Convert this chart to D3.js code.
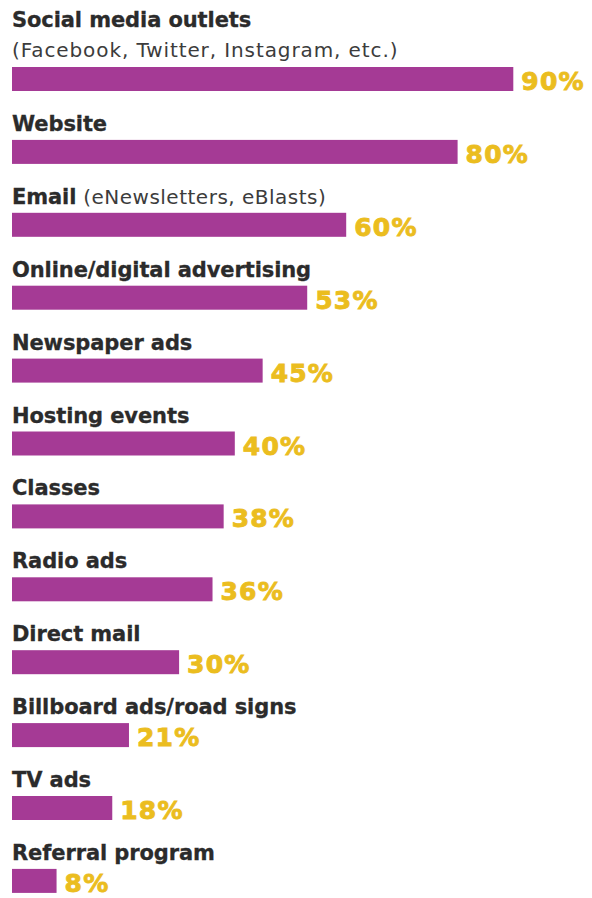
<!DOCTYPE html>
<html>
<head>
<meta charset="utf-8">
<script src="https://cdn.jsdelivr.net/npm/d3@7"></script>
<style>
  html, body { margin: 0; padding: 0; background: #ffffff; }
  svg { display: block; }
</style>
</head>
<body>
<svg id="chart" width="592" height="898"></svg>
<script>
// Marketing channels and share of respondents using each
const categories = [
  "Social media outlets",
  "Website",
  "Email",
  "Online/digital advertising",
  "Newspaper ads",
  "Hosting events",
  "Classes",
  "Radio ads",
  "Direct mail",
  "Billboard ads/road signs",
  "TV ads",
  "Referral program"
];
const values = [90, 80, 60, 53, 45, 40, 38, 36, 30, 21, 18, 8];
const valueLabels = ["90%", "80%", "60%", "53%", "45%", "40%", "38%", "36%", "30%", "21%", "18%", "8%"];
// Explanatory notes: "below" sits on its own line, "inline" follows the name
const notesBelow = { "Social media outlets": "(Facebook, Twitter, Instagram, etc.)" };
const notesInline = { "Email": "(eNewsletters, eBlasts)" };

const svg = d3.select("#chart");
const purple = "#a53a95";
const gold = "#ebbd1f";
const ink = "#2b2b2b";

const x = d3.scaleLinear().domain([0, 100]).range([12, 569]);
const y = d3.scaleBand().domain(categories).range([20, 20 + 12 * 72.9]).paddingInner(0);

const barH = 24;
const barOffset = 47;

const rows = svg.selectAll("g.row")
  .data(categories.map((c, i) => ({ cat: c, v: values[i], lbl: valueLabels[i] })))
  .join("g")
  .attr("class", "row")
  .attr("transform", d => `translate(0,${y(d.cat) + barOffset})`);

rows.append("rect")
  .attr("x", x(0))
  .attr("y", 0)
  .attr("width", d => x(d.v) - x(0))
  .attr("height", barH)
  .attr("fill", purple);

rows.append("text")
  .attr("x", d => x(d.v) + 8)
  .attr("y", barH - 1)
  .attr("fill", gold)
  .attr("stroke", gold)
  .attr("stroke-width", 0.9)
  .attr("font-family", "DejaVu Sans")
  .attr("font-weight", 700)
  .attr("font-size", 25)
  .attr("letter-spacing", 1.2)
  .text(d => d.lbl);

// Category names above each bar
const names = rows.append("text")
  .attr("x", 12)
  .attr("y", d => notesBelow[d.cat] ? -40 : -9)
  .attr("font-family", "DejaVu Sans")
  .attr("font-size", 21)
  .attr("fill", ink);

names.append("tspan")
  .attr("font-weight", 700)
  .attr("stroke", ink)
  .attr("stroke-width", 0.3)
  .attr("letter-spacing", -0.1)
  .text(d => d.cat);

names.filter(d => notesInline[d.cat])
  .append("tspan")
  .attr("font-weight", 400)
  .attr("font-size", 20)
  .attr("fill", "#3c3c3c")
  .attr("letter-spacing", 0.5)
  .text(d => " " + notesInline[d.cat]);

rows.filter(d => notesBelow[d.cat])
  .append("text")
  .attr("x", 12)
  .attr("y", -10)
  .attr("font-family", "DejaVu Sans")
  .attr("font-size", 20)
  .attr("letter-spacing", 0.9)
  .attr("fill", "#3c3c3c")
  .text(d => notesBelow[d.cat]);
</script>
</body>
</html>
